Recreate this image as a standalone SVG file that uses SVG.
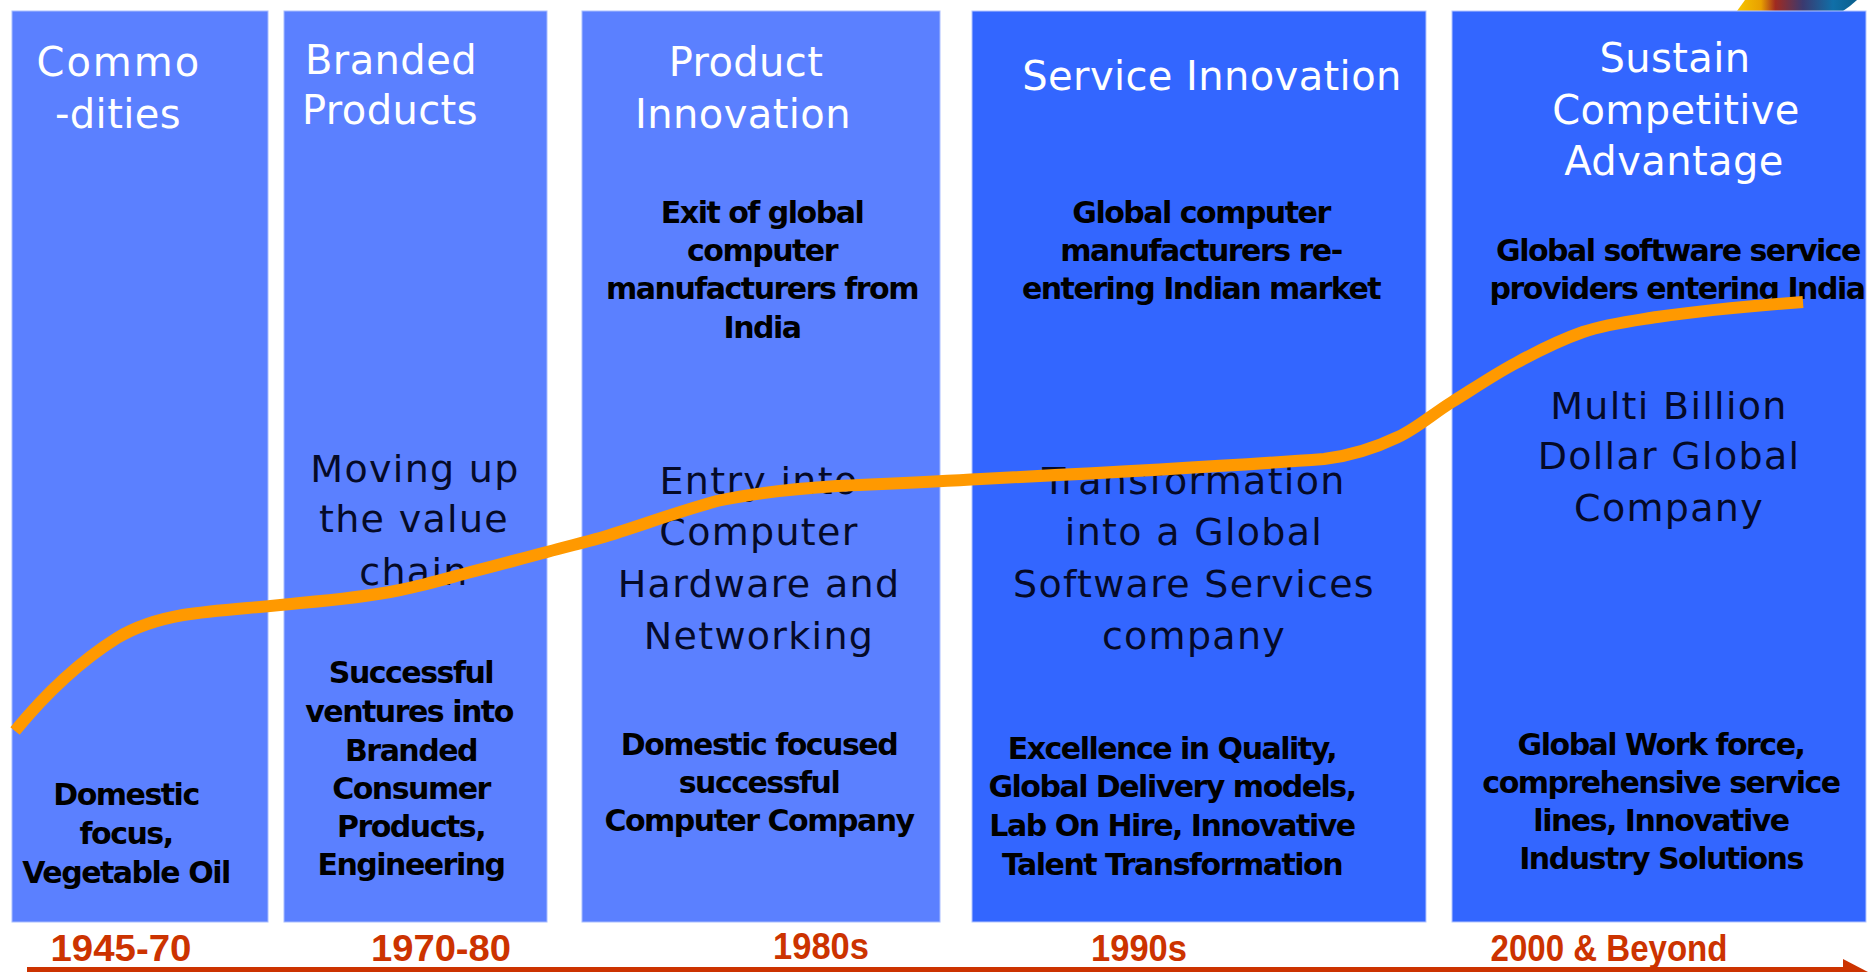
<svg xmlns="http://www.w3.org/2000/svg" width="1875" height="972" viewBox="0 0 1875 972">
<defs>
<linearGradient id="logo" x1="0" x2="1" y1="0" y2="0"><stop offset="0" stop-color="#f6c400"/><stop offset="0.2" stop-color="#e8a000"/><stop offset="0.32" stop-color="#a02a20"/><stop offset="0.55" stop-color="#3a3a70"/><stop offset="0.8" stop-color="#106fa8"/><stop offset="1" stop-color="#0a5f8c"/></linearGradient>
</defs>
<style>
text{font-family:"DejaVu Sans","Liberation Sans",sans-serif;text-anchor:middle}
.h{fill:#fff;font-size:40px;letter-spacing:.4px}
.m{fill:#050a28;font-size:38px;letter-spacing:1.3px}
.b{fill:#000;font-size:30px;font-weight:700;letter-spacing:-1.5px}
.d{fill:#cc3300;font-size:37px;font-weight:700;font-family:"Liberation Sans",sans-serif}
.c1{fill:#5b80ff;stroke:#a9bdff;stroke-width:1}.c2{fill:#3366ff;stroke:#b5c6ff;stroke-width:1}
</style>
<rect width="1875" height="972" fill="#fff"/>
<path id="logo-mark" d="M1737 11L1745 0H1857L1850 6L1843 11Z" fill="url(#logo)"/>
<g id="col1"><rect class="c1" x="12" y="11" width="256" height="911"/>
<text class="h" x="118" y="76" textLength="163">Commo</text><text class="h" x="118" y="128">-dities</text>
<text class="b" x="126" y="805">Domestic</text><text class="b" x="126" y="844">focus,</text><text class="b" x="126" y="883">Vegetable Oil</text></g>
<g id="col2"><rect class="c1" x="284" y="11" width="263" height="911"/>
<text class="h" x="391" y="74">Branded</text><text class="h" x="390" y="124">Products</text>
<text class="m" x="415" y="482">Moving up</text><text class="m" x="414" y="532">the value</text><text class="m" x="414" y="585">chain</text>
<text class="b" x="411" y="683">Successful</text><text class="b" x="409" y="722">ventures into</text><text class="b" x="411" y="761">Branded</text><text class="b" x="411" y="799">Consumer</text><text class="b" x="411" y="837">Products,</text><text class="b" x="411" y="875">Engineering</text></g>
<g id="col3"><rect class="c1" x="582" y="11" width="358" height="911"/>
<text class="h" x="746" y="76">Product</text><text class="h" x="743" y="128">Innovation</text>
<text class="b" x="762" y="223">Exit of global</text><text class="b" x="762" y="261">computer</text><text class="b" x="762" y="299">manufacturers from</text><text class="b" x="762" y="338">India</text>
<text class="m" x="759" y="494">Entry into</text><text class="m" x="759" y="545">Computer</text><text class="m" x="759" y="597">Hardware and</text><text class="m" x="759" y="649">Networking</text>
<text class="b" x="759" y="755">Domestic focused</text><text class="b" x="759" y="793">successful</text><text class="b" x="759" y="831">Computer Company</text></g>
<g id="col4"><rect class="c2" x="972" y="11" width="454" height="911"/>
<text class="h" x="1212" y="90">Service Innovation</text>
<text class="b" x="1201" y="223">Global computer</text><text class="b" x="1201" y="261">manufacturers re-</text><text class="b" x="1201" y="299">entering Indian market</text>
<text class="m" x="1194" y="494">Transformation</text><text class="m" x="1194" y="545">into a Global</text><text class="m" x="1194" y="597">Software Services</text><text class="m" x="1194" y="649">company</text>
<text class="b" x="1172" y="759">Excellence in Quality,</text><text class="b" x="1172" y="797">Global Delivery models,</text><text class="b" x="1172" y="836">Lab On Hire, Innovative</text><text class="b" x="1172" y="875">Talent Transformation</text></g>
<g id="col5"><rect class="c2" x="1452" y="11" width="414" height="911"/>
<text class="h" x="1675" y="72">Sustain</text><text class="h" x="1676" y="124">Competitive</text><text class="h" x="1674" y="175">Advantage</text>
<text class="b" x="1678" y="261">Global software service</text><text class="b" x="1677" y="299">providers entering India</text>
<text class="m" x="1669" y="419">Multi Billion</text><text class="m" x="1669" y="469">Dollar Global</text><text class="m" x="1669" y="521">Company</text>
<text class="b" x="1661" y="755">Global Work force,</text><text class="b" x="1661" y="793">comprehensive service</text><text class="b" x="1661" y="831">lines, Innovative</text><text class="b" x="1661" y="869">Industry Solutions</text></g>
<g id="dates">
<text class="d" x="121" y="961" textLength="141" lengthAdjust="spacingAndGlyphs">1945-70</text><text class="d" x="441" y="961" textLength="140" lengthAdjust="spacingAndGlyphs">1970-80</text><text class="d" x="821" y="959" textLength="96" lengthAdjust="spacingAndGlyphs">1980s</text><text class="d" x="1139" y="961" textLength="96" lengthAdjust="spacingAndGlyphs">1990s</text><text class="d" x="1609" y="961" textLength="237" lengthAdjust="spacingAndGlyphs">2000 &amp; Beyond</text>
</g>
<g id="connectors" fill="none">
<path d="M27 970H1846" stroke="#cc3300" stroke-width="6"/>
<path d="M1843 959L1868 972H1843Z" fill="#cc3300"/>
<path d="M15 731C47 692 82 660 117 638C137 626 160 619 183 615C215 610 255 608 300 603C335 600 365 597 400 590C425 585 445 579 467 573C495 566 520 559 547 552C565 547 582 543 600 538C640 526 670 514 717 501C745 495 790 489 837 486C880 484 930 482 981 479C1100 473 1230 466 1324 459C1349 456 1373 449 1398 437C1416 429 1434 413 1452 402C1473 389 1495 374 1516 363C1538 351 1560 340 1583 332C1607 324 1632 321 1657 317C1700 311 1750 306 1803 302" stroke="#ff9900" stroke-width="12"/>
</g>
</svg>
